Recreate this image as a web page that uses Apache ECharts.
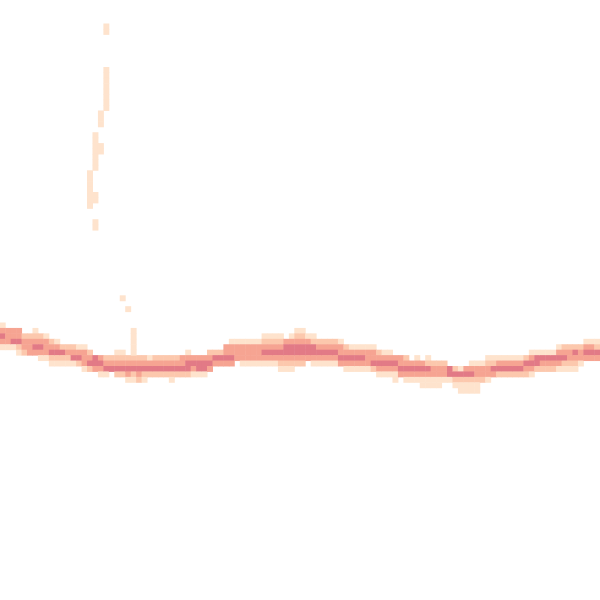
<!DOCTYPE html>
<html>
<head>
<meta charset="utf-8">
<script src="https://cdn.jsdelivr.net/npm/echarts@6/dist/echarts.min.js"></script>
<style>
  html, body { margin: 0; padding: 0; background: #fff; }
  #chart { width: 600px; height: 600px; }
</style>
</head>
<body>
<div id="chart"></div>
<script>
// grid size (cells across / down)
const colCount = 110;
const rowCount = 110;

// the band: for each column, first row and the levels going down ('0' = empty)
const bandTop = [
  59, 60, 60, 60, 61, 61, 60, 61, 61, 62,
  62, 63, 63, 63, 63, 63, 64, 65, 65, 65,
  65, 64, 64, 65, 65, 65, 65, 65, 65, 65,
  65, 65, 65, 65, 64, 65, 65, 65, 64, 64,
  64, 63, 62, 62, 62, 62, 62, 62, 61, 61,
  61, 61, 62, 61, 60, 60, 61, 61, 62, 62,
  62, 62, 62, 63, 63, 63, 63, 63, 63, 64,
  64, 64, 65, 65, 65, 66, 65, 66, 65, 66,
  66, 66, 67, 67, 67, 67, 66, 66, 66, 65,
  65, 65, 65, 65, 65, 65, 65, 64, 64, 64,
  64, 64, 63, 63, 63, 63, 63, 62, 62, 62
];
const bandLevels = [
  '13431', '3331', '3341', '33421', '2332', '2333', '12343', '23431', '13331', '23421',
  '13421', '2421', '2321', '2341', '1342', '13331', '2342', '443', '3431', '2341',
  '234', '12342', '12342', '23431', '23421', '23432', '23421', '1342', '2342', '2342',
  '2342', '23421', '2342', '3342', '13442', '3431', '3441', '3441', '2343', '243',
  '243', '3343', '13343', '1333', '13331', '13331', '13331', '13331', '123431', '123431',
  '123431', '1234321', '344321', '1344321', '1234432', '1234432', '13443', '124431', '23431', '23431',
  '23431', '23431', '13343', '23431', '13431', '13431', '13431', '13331', '13342', '23431',
  '13431', '13431', '34311', '3343', '23431', '3431', '13431', '34311', '124311', '23311',
  '23311', '2331', '441', '2421', '14211', '34211', '134211', '133211', '1332', '12331',
  '1243', '1342', '1342', '1342', '1342', '1342', '2432', '13431', '1442', '1432',
  '1432', '1432', '13431', '23421', '23321', '24321', '2331', '1343', '1343', '1243'
];

// faint trace above the band: [column, first row, last row, level]
const traceRuns = [
  [19, 4, 5, 1],
  [19, 12, 19, 1],
  [18, 20, 22, 1],
  [17, 24, 30, 1],
  [18, 26, 27, 1],
  [16, 31, 37, 1],
  [17, 35, 36, 1],
  [17, 40, 41, 1],
  [22, 54, 54, 1],
  [23, 56, 56, 1],
  [24, 60, 64, 1]
];

// colour ramp for levels 1..4
const levelColors = ['#fee3cd', '#fcc8ad', '#f6a492', '#e27a86'];

const xCats = [];
for (let i = 0; i < colCount; i++) xCats.push(i);
const yCats = [];
for (let i = 0; i < rowCount; i++) yCats.push(i);

const cells = {};
bandTop.forEach((top, c) => {
  const s = bandLevels[c];
  for (let k = 0; k < s.length; k++) {
    const v = +s[k];
    if (v > 0) cells[c + ',' + (top + k)] = v;
  }
});
traceRuns.forEach(([c, r0, r1, v]) => {
  for (let r = r0; r <= r1; r++) {
    const key = c + ',' + r;
    if (!cells[key]) cells[key] = v;
  }
});
const data = Object.keys(cells).map(key => {
  const [c, r] = key.split(',').map(Number);
  return [c, r, cells[key]];
});

const chart = echarts.init(document.getElementById('chart'));
chart.setOption({
  animation: false,
  grid: { left: 0, right: 0, top: 2, bottom: -2 },
  xAxis: { type: 'category', data: xCats, show: false },
  yAxis: { type: 'category', data: yCats, inverse: true, show: false },
  visualMap: {
    show: false,
    min: 1,
    max: 4,
    inRange: { color: levelColors }
  },
  series: [{
    type: 'heatmap',
    data: data,
    itemStyle: { borderWidth: 0 },
    emphasis: { disabled: true }
  }]
});
</script>
</body>
</html>
